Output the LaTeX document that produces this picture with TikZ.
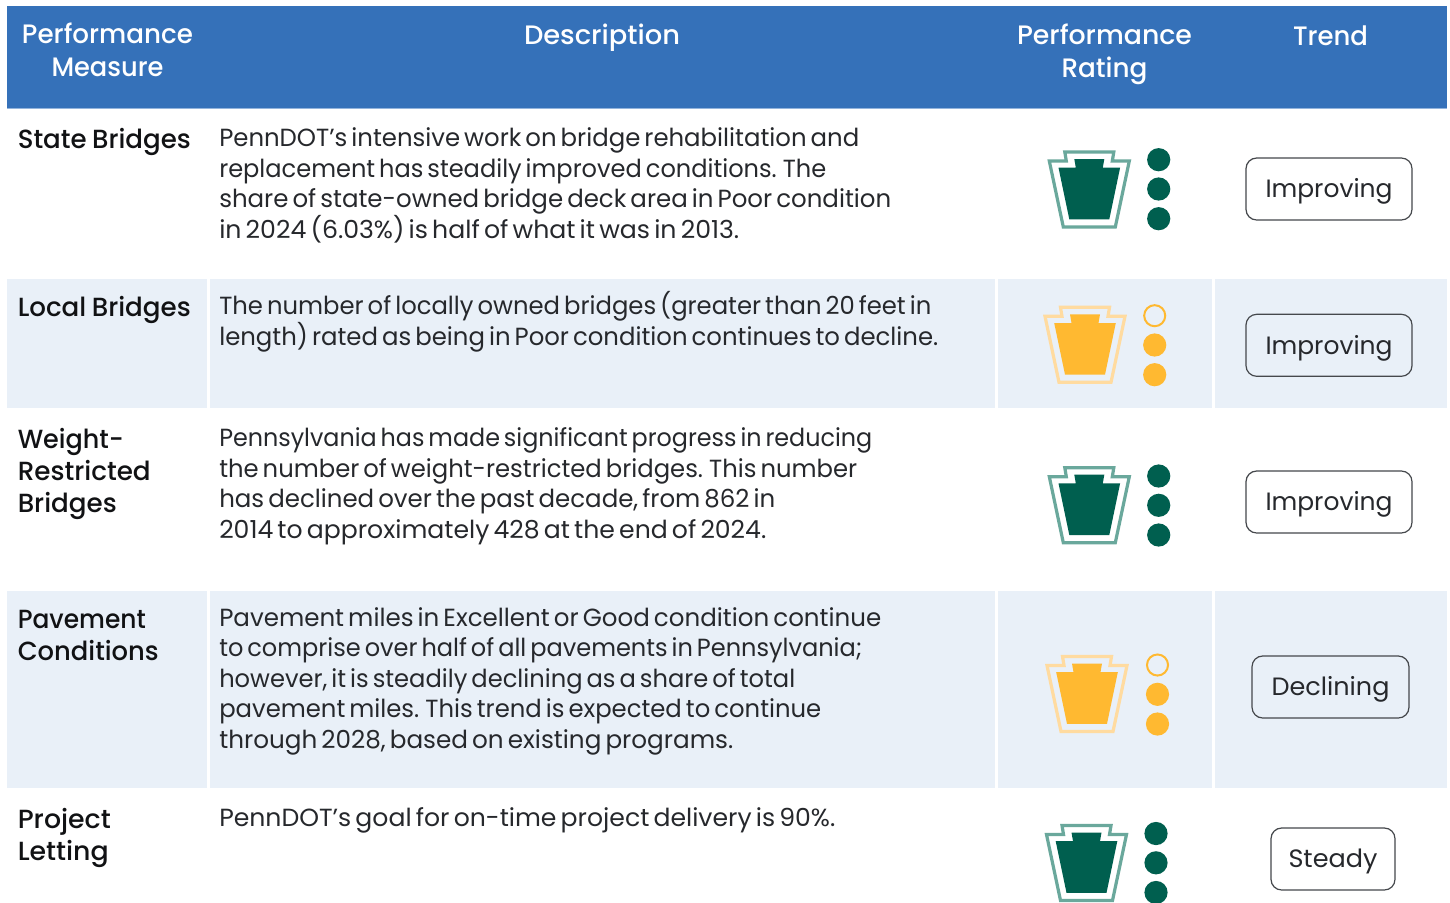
\documentclass[tikz,border=0pt]{standalone}
\usepackage{graphicx}
\usepackage{fontspec}
\setmainfont[WordSpace=0.7]{Poppins}
\newfontfamily\medfont[WordSpace=0.8]{Poppins Medium}
\newfontfamily\descfont[WordSpace=0.62,FakeStretch=0.975]{Poppins}
\newlength\pxu
\setlength\pxu{0.75pt}
\newcommand{\fitw}[2]{\resizebox{#1\pxu}{\height}{#2}}
\definecolor{hdr}{HTML}{3571B9}
\definecolor{hdrl}{HTML}{93B4DC}
\definecolor{band}{HTML}{E9F0F8}
\definecolor{ink}{HTML}{26282C}
\definecolor{inkm}{HTML}{111214}
\definecolor{boxl}{HTML}{45484C}
\definecolor{grn}{HTML}{005F4F}
\definecolor{grnl}{HTML}{6AA89C}
\definecolor{yel}{HTML}{FFB931}
\definecolor{yell}{HTML}{FFDBA0}
\tikzset{
  x=0.75pt,y=-0.75pt,
  head/.style={anchor=base,align=center,text=white,inner sep=0,font=\medfont\fontsize{20}{24.2}\selectfont},
  meas/.style={anchor=base west,align=left,text=inkm,inner sep=0,font=\medfont\fontsize{19.7}{24}\selectfont},
  desc/.style={anchor=base west,align=left,text=ink,inner sep=0,font=\descfont\fontsize{18.6}{22.8}\selectfont},
  trend/.style={draw=boxl,line width=0.9pt,rounded corners=8pt,text=ink,inner sep=0,text height=15pt,text depth=1.6pt,font=\fontsize{18.8}{24}\selectfont},
  pics/keystone/.style n args={2}{code={
    \draw[#2,line width=2.4pt,line join=miter] (-24.5,2)--(24.5,2)--(23,11)--(40,11)--(26,77)--(-26,77)--(-40,11)--(-23,11)--cycle;
    \fill[#1] (-15,9)--(15,9)--(13.5,17.7)--(30.8,17.7)--(20,69.3)--(-20,69.3)--(-30.8,17.7)--(-13.5,17.7)--cycle;
  }},
}
\begin{document}
\begin{tikzpicture}
\useasboundingbox (0,0) rectangle (1450,903);
\fill[white] (0,0) rectangle (1450,903);
\fill[hdrl] (7,108) rectangle (1447,109.3);
\fill[hdr] (7,6) rectangle (1447,108);
\foreach \ya/\yb in {279/408,591/788}{
  \fill[band] (7,\ya) rectangle (207,\yb);
  \fill[band] (209.5,\ya) rectangle (995,\yb);
  \fill[band] (997.5,\ya) rectangle (1212,\yb);
  \fill[band] (1214.5,\ya) rectangle (1447,\yb);
}
\node[head] (h1) at (107.5,76) {\fitw{171}{Performance}\\\fitw{112}{Measure}};
\node[head] (h2) at (602,45) {\fitw{156}{Description}};
\node[head] (h3) at (1104.5,77) {\fitw{175}{Performance}\\\fitw{86}{Rating}};
\node[head] (h4) at (1330.5,45) {\fitw{75}{Trend}};

\node[meas] (m1) at (17.5,148) {\fitw{173}{State Bridges}};
\node[meas] (m2) at (17.5,316) {\fitw{173}{Local Bridges}};
\node[meas] (m3) at (17.5,512) {\fitw{106}{Weight-}\\\fitw{133}{Restricted}\\\fitw{99}{Bridges}};
\node[meas] (m4) at (17.5,660) {\fitw{128}{Pavement}\\\fitw{141}{Conditions}};
\node[meas] (m5) at (17.5,860) {\fitw{93}{Project}\\\fitw{91}{Letting}};

\node[desc] (d1) at (219,238) {\fitw{640}{PennDOT’s intensive work on bridge rehabilitation and}\\\fitw{607}{replacement has steadily improved conditions. The}\\\fitw{672}{share of state-owned bridge deck area in Poor condition}\\\fitw{520}{in 2024 (6.03\%) is half of what it was in 2013.}};
\node[desc] (d2) at (219,345) {\fitw{712}{The number of locally owned bridges (greater than 20 feet in}\\\fitw{719}{length) rated as being in Poor condition continues to decline.}};
\node[desc] (d3) at (219,538) {\fitw{653}{Pennsylvania has made significant progress in reducing}\\\fitw{638}{the number of weight-restricted bridges. This number}\\\fitw{556}{has declined over the past decade, from 862 in}\\\fitw{547}{2014 to approximately 428 at the end of 2024.}};
\node[desc] (d4) at (219,748) {\fitw{662}{Pavement miles in Excellent or Good condition continue}\\\fitw{643}{to comprise over half of all pavements in Pennsylvania;}\\\fitw{576}{however, it is steadily declining as a share of total}\\\fitw{602}{pavement miles. This trend is expected to continue}\\\fitw{514}{through 2028, based on existing programs.}};
\node[desc] (d5) at (219,826) {\fitw{616}{PennDOT’s goal for on-time project delivery is 90\%.}};

\pic at (1089.3,150) {keystone={grn}{grnl}};
\pic at (1085,305.3) {keystone={yel}{yell}};
\pic at (1089.3,465.7) {keystone={grn}{grnl}};
\pic at (1087,654.5) {keystone={yel}{yell}};
\pic at (1086.5,823.5) {keystone={grn}{grnl}};

\foreach \x/\y in {1158.7/159.7,1158.7/189,1158.7/218.7,1158.7/476,1158.7/505.3,1158.7/535,1156/833.5,1156/862.8,1156/892.5}
  \fill[grn] (\x,\y) circle[radius=8.7pt];
\foreach \x/\y in {1154.7/345,1154.7/374.7,1157.5/694.3,1157.5/724}
  \fill[yel] (\x,\y) circle[radius=8.7pt];
\foreach \x/\y in {1154.7/315.7,1157.5/665}
  \draw[yel,line width=1.5pt] (\x,\y) circle[radius=7.9pt];

\node[trend,minimum width=124.5pt,minimum height=46.5pt] (t1) at (1329,189) {\fitw{127}{Improving}};
\node[trend,minimum width=124.5pt,minimum height=46.5pt] (t2) at (1329,345.3) {\fitw{127}{Improving}};
\node[trend,minimum width=124.5pt,minimum height=46.5pt] (t3) at (1329,502) {\fitw{127}{Improving}};
\node[trend,minimum width=117.7pt,minimum height=46.5pt] (t4) at (1330.5,687) {\fitw{118}{Declining}};
\node[trend,minimum width=93pt,minimum height=46.5pt] (t5) at (1333,859) {\fitw{89}{Steady}};
\end{tikzpicture}
\end{document}
